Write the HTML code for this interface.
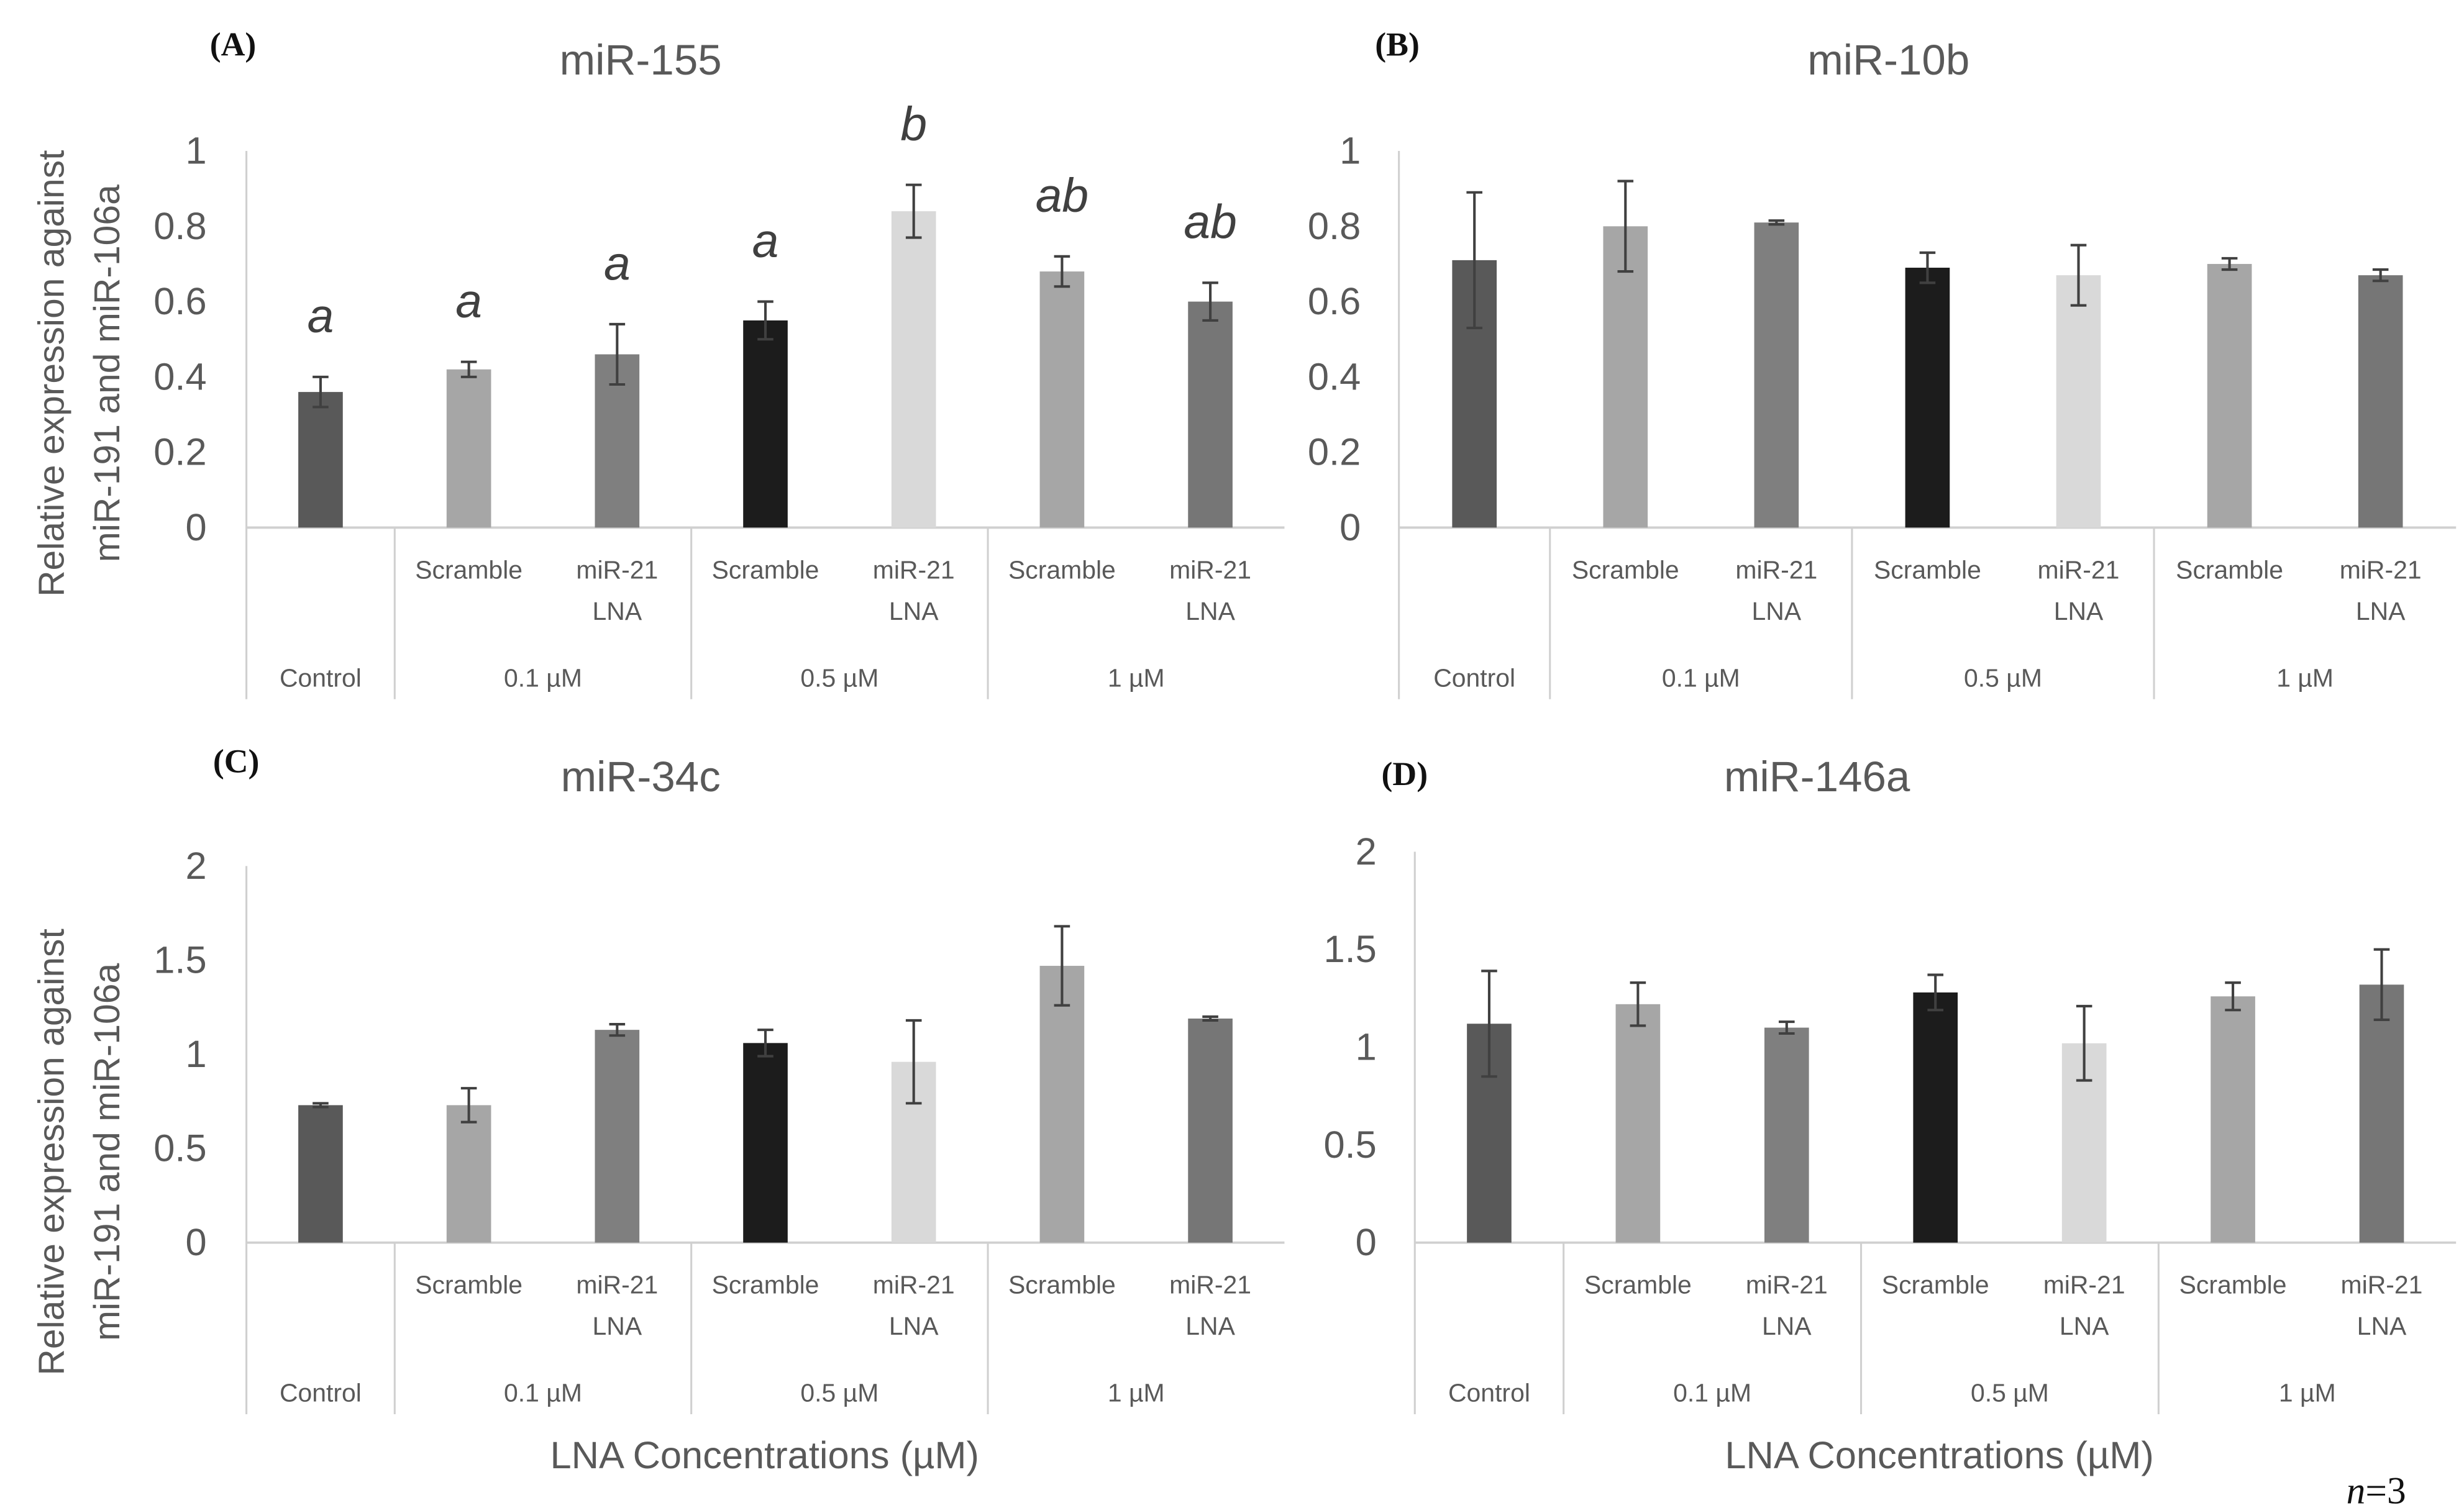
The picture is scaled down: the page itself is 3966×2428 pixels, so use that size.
<!DOCTYPE html>
<html><head><meta charset="utf-8">
<style>
html,body{margin:0;padding:0;background:#fff;}
svg{display:block;}
text{font-family:"Liberation Sans",sans-serif;}
</style></head>
<body>
<svg id="fig" width="3966" height="2428" viewBox="0 0 1550 949" preserveAspectRatio="none" xmlns="http://www.w3.org/2000/svg">
<text x="132" y="35" style="font-family:'Liberation Serif',serif" font-weight="bold" font-size="21" fill="#111">(A)</text>
<text x="403" y="47" text-anchor="middle" font-size="27" fill="#595959">miR-155</text>
<text x="865" y="35" style="font-family:'Liberation Serif',serif" font-weight="bold" font-size="21" fill="#111">(B)</text>
<text x="1188" y="47" text-anchor="middle" font-size="27" fill="#595959">miR-10b</text>
<text x="134" y="486" style="font-family:'Liberation Serif',serif" font-weight="bold" font-size="21" fill="#111">(C)</text>
<text x="403" y="498" text-anchor="middle" font-size="27" fill="#595959">miR-34c</text>
<text x="869" y="494" style="font-family:'Liberation Serif',serif" font-weight="bold" font-size="21" fill="#111">(D)</text>
<text x="1143" y="498" text-anchor="middle" font-size="27" fill="#595959">miR-146a</text>
<g transform="translate(40,235) rotate(-90)"><text text-anchor="middle" font-size="23" fill="#595959">Relative expression against</text><text y="35" text-anchor="middle" font-size="23" fill="#595959">miR-191 and miR-106a</text></g>
<g transform="translate(40,725) rotate(-90)"><text text-anchor="middle" font-size="23" fill="#595959">Relative expression against</text><text y="35" text-anchor="middle" font-size="23" fill="#595959">miR-191 and miR-106a</text></g>
<text x="481" y="924" text-anchor="middle" font-size="24" fill="#595959">LNA Concentrations (µM)</text>
<text x="1220" y="924" text-anchor="middle" font-size="24" fill="#595959">LNA Concentrations (µM)</text>
<text x="1476" y="946" style="font-family:'Liberation Serif',serif" font-size="24" fill="#111"><tspan font-style="italic">n</tspan>=3</text>
</svg>
<script>
const categories = ["Control","Scramble 0.1","miR-21 LNA 0.1","Scramble 0.5","miR-21 LNA 0.5","Scramble 1","miR-21 LNA 1"];
const valuesA = [0.36,0.42,0.46,0.55,0.84,0.68,0.60];
const errorsA = [0.04,0.02,0.08,0.05,0.07,0.04,0.05];
const lettersA = ["a","a","a","a","b","ab","ab"];
const valuesB = [0.71,0.80,0.81,0.69,0.67,0.70,0.67];
const errorsB = [0.18,0.12,0.005,0.04,0.08,0.015,0.015];
const valuesC = [0.73,0.73,1.13,1.06,0.96,1.47,1.19];
const errorsC = [0.01,0.09,0.03,0.07,0.22,0.21,0.01];
const valuesD = [1.12,1.22,1.10,1.28,1.02,1.26,1.32];
const errorsD = [0.27,0.11,0.03,0.09,0.19,0.07,0.18];
const ticksTop = ["0","0.2","0.4","0.6","0.8","1"];
const ticksBottom = ["0","0.5","1","1.5","2"];
const colors = ["#595959","#a6a6a6","#7f7f7f","#1c1c1c","#d9d9d9","#a6a6a6","#767676"];

const NS = "http://www.w3.org/2000/svg";
const svg = document.getElementById("fig");
function el(tag, attrs, parent){
  const e = document.createElementNS(NS, tag);
  for (const k in attrs) e.setAttribute(k, attrs[k]);
  (parent||svg).appendChild(e); return e;
}
function panel(id, x0, x1, yTop, y0, maxV, ticks, values, errors, letters, tickX){
  const g = el("g", {});
  
  
  const yS = v => y0 - (v / maxV) * (y0 - yTop);
  const slot = (x1 - x0) / categories.length;
  const xC = i => x0 + slot * (i + 0.5);
  const yEnd = y0 + 108;
  const ax = el("line", {x1:x0, y1:yTop, x2:x0, y2:yEnd, stroke:"#d0d0d0", "stroke-width":1.2}, g);
  
  
  const bl = el("line", {x1:x0, y1:y0, x2:x1, y2:y0, stroke:"#d0d0d0", "stroke-width":1.5}, g);
  
  
  [1,3,5].forEach(k => {
    const s = el("line", {x1:x0+slot*k, y1:y0, x2:x0+slot*k, y2:yEnd, stroke:"#d0d0d0", "stroke-width":1.2}, g);
    
    
  });
  ticks.forEach(t => {
    const tt = el("text", {x:tickX, y:yS(parseFloat(t))+8, "text-anchor":"end", "font-size":24, fill:"#595959"}, g);
    tt.textContent = t;
    
    
  });
  values.forEach((v, i) => {
    const bw = 28;
    const r = el("rect", {x:xC(i)-bw/2, y:yS(v), width:bw, height:y0-yS(v), fill:colors[i]}, g);
    
    
    const e = errors[i];
    const eg = el("g", {stroke:"#404040", "stroke-width":1.6}, g);
    
    
    el("line", {x1:xC(i), y1:yS(v+e), x2:xC(i), y2:yS(v-e)}, eg);
    el("line", {x1:xC(i)-5, y1:yS(v+e), x2:xC(i)+5, y2:yS(v+e)}, eg);
    el("line", {x1:xC(i)-5, y1:yS(v-e), x2:xC(i)+5, y2:yS(v-e)}, eg);
    if (letters) {
      const lt = el("text", {x:xC(i), y:yS(v+e)-28, "text-anchor":"middle", "font-size":30, "font-style":"italic", fill:"#404040"}, g);
      lt.textContent = letters[i];
      
      
    }
  });
  for (let i = 1; i < 7; i++) {
    const isScr = i % 2 === 1;
    const t1 = el("text", {x:xC(i), y:y0+32, "text-anchor":"middle", "font-size":16, fill:"#595959"}, g);
    t1.textContent = isScr ? "Scramble" : "miR-21";
    
    
    if (!isScr) {
      const t2 = el("text", {x:xC(i), y:y0+58, "text-anchor":"middle", "font-size":16, fill:"#595959"}, g);
      t2.textContent = "LNA";
      
      
    }
  }
  const groups = ["Control","0.1 µM","0.5 µM","1 µM"];
  const gc = [xC(0), (xC(1)+xC(2))/2, (xC(3)+xC(4))/2, (xC(5)+xC(6))/2];
  groups.forEach((gl, k) => {
    const t = el("text", {x:gc[k], y:y0+100, "text-anchor":"middle", "font-size":16, fill:"#595959"}, g);
    t.textContent = gl;
    
    
  });
}
panel("a", 155, 808, 95, 332, 1, ticksTop, valuesA, errorsA, lettersA, 130);
panel("b", 880, 1545, 95, 332, 1, ticksTop, valuesB, errorsB, null, 856);
panel("c", 155, 808, 545, 782, 2, ticksBottom, valuesC, errorsC, null, 130);
panel("d", 890, 1545, 536, 782, 2, ticksBottom, valuesD, errorsD, null, 866);
</script>
</body></html>
